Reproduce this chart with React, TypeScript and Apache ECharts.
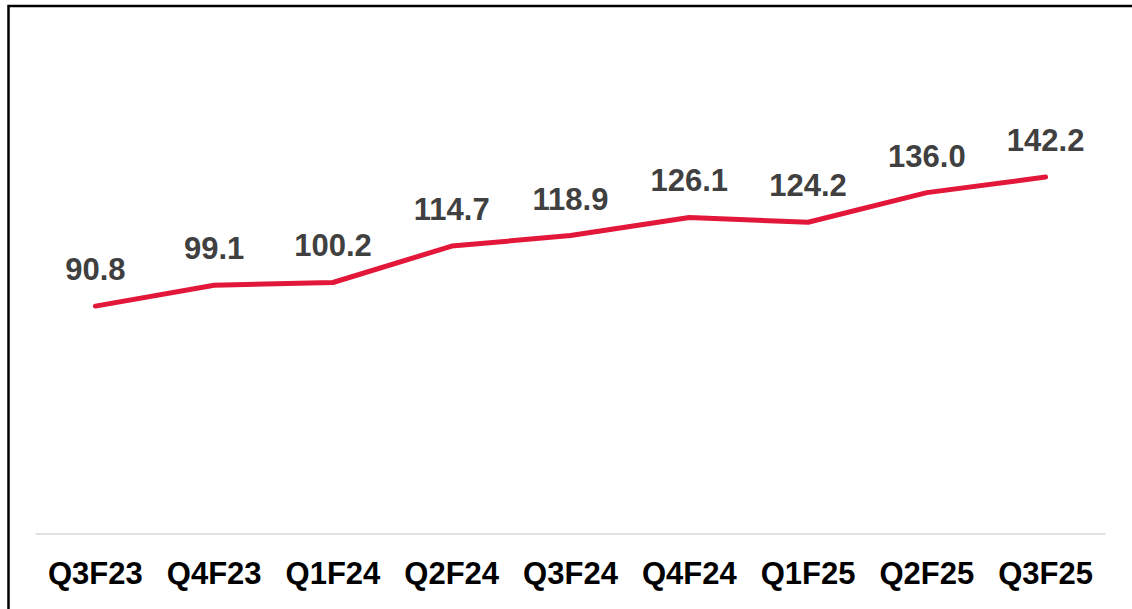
import React, { useEffect, useRef } from "react";
import * as echarts from "echarts";

const categories = ["Q3F23", "Q4F23", "Q1F24", "Q2F24", "Q3F24", "Q4F24", "Q1F25", "Q2F25", "Q3F25"];
const values = [90.8, 99.1, 100.2, 114.7, 118.9, 126.1, 124.2, 136.0, 142.2];

export default function App() {
  const ref = useRef<HTMLDivElement>(null);
  useEffect(() => {
    if (!ref.current) return;
    const chart = echarts.init(ref.current, undefined, { renderer: "svg" });
    chart.setOption({
      animation: false,
      backgroundColor: "#ffffff",
      grid: { left: 36, right: 27, top: 32, bottom: 75, containLabel: false },
      xAxis: {
        type: "category",
        data: categories,
        boundaryGap: true,
        axisLine: { show: true, lineStyle: { color: "#d9d9d9", width: 1.5 } },
        axisTick: { show: false },
        axisLabel: {
          color: "#000000",
          fontFamily: "Liberation Sans, Arial, sans-serif",
          fontWeight: "bold",
          fontSize: 31,
          margin: 24,
          interval: 0,
        },
      },
      yAxis: {
        type: "value",
        min: 0,
        max: 200,
        show: false,
        splitLine: { show: false },
      },
      graphic: [
        {
          type: "rect",
          shape: { x: 8.5, y: 6, width: 1300, height: 800 },
          style: { fill: "none", stroke: "#000000", lineWidth: 2.5 },
          silent: true,
        },
      ],
      series: [
        {
          type: "line",
          data: values,
          showSymbol: true,
          symbol: "circle",
          symbolSize: 2,
          lineStyle: { color: "#E2173A", width: 5, cap: "round", join: "round" },
          itemStyle: { color: "#E2173A" },
          label: {
            show: true,
            position: "top",
            distance: 20,
            color: "#404040",
            fontFamily: "Liberation Sans, Arial, sans-serif",
            fontWeight: "bold",
            fontSize: 31,
            formatter: (p: any) => Number(p.value).toFixed(1),
          },
        },
      ],
    });
    return () => chart.dispose();
  }, []);
  return (
    <div
      ref={ref}
      style={{ position: "fixed", left: 0, top: 0, width: 1132, height: 609, background: "#fff" }}
    />
  );
}
